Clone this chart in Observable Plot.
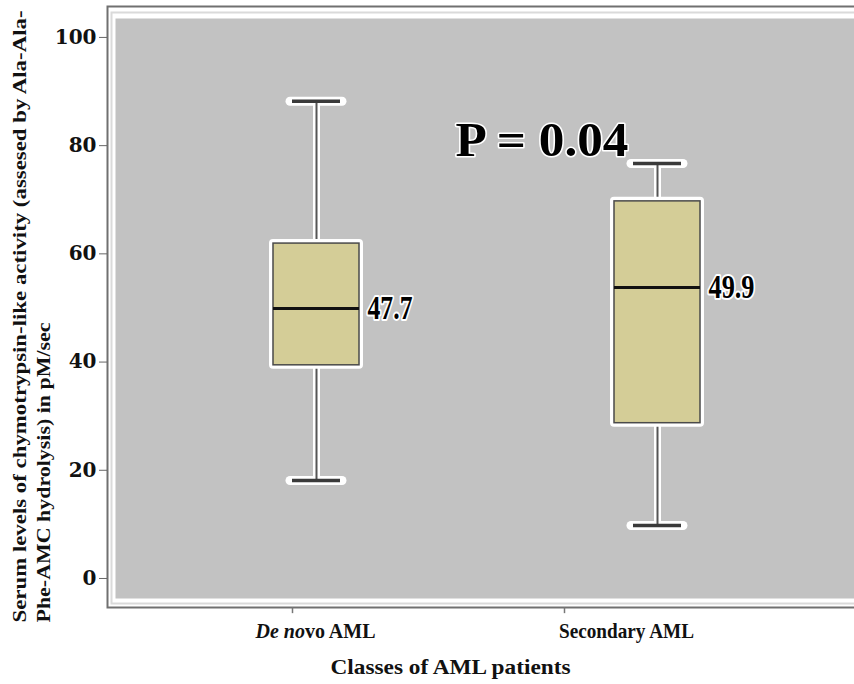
<!DOCTYPE html>
<html><head><meta charset="utf-8">
<script src="https://cdn.jsdelivr.net/npm/d3@7"></script>
<script src="https://cdn.jsdelivr.net/npm/@observablehq/plot@0.6"></script>
<style>
body{margin:0;background:#fff;overflow:hidden}
.yticks text{font-family:"DejaVu Serif",serif;font-weight:bold;font-size:20px;fill:#111}
</style>
</head><body><div id="chart"></div>
<script>
const classes = ["De novo AML", "Secondary AML"];
const mins = [18.1, 9.8];
const q1s = [39.4, 28.7];
const medians = [49.9, 53.8];
const q3s = [61.9, 69.7];
const maxs = [88.2, 76.7];
const medianLabels = ["47.7", "49.9"];
const yTicks = [0, 20, 40, 60, 80, 100];
const pText = "P = 0.04";
const xTitle = "Classes of AML patients";
const yTitle1 = "Serum levels of chymotrypsin-like activity (assesed by Ala-Ala-";
const yTitle2 = "Phe-AMC hydrolysis) in pM/sec";

const boxes = classes.map((c, i) => ({cls: c, min: mins[i], q1: q1s[i], median: medians[i], q3: q3s[i], max: maxs[i], label: medianLabels[i]}));
const serif = "'Liberation Serif','Times New Roman',serif";

const chart = Plot.plot({
  width: 854, height: 684,
  marginLeft: 115, marginRight: 0, marginTop: 18, marginBottom: 86,
  style: {background: "#fff", fontFamily: serif, overflow: "hidden"},
  x: {type: "band", domain: classes, range: [145.5, 827.5], paddingInner: 0.748, paddingOuter: 0.374, axis: null},
  y: {domain: [-3.7, 103.5], axis: null},
  marks: [
    Plot.frame({fill: "#fff", stroke: "#707070", strokeWidth: 2, insetLeft: -8, insetTop: -12, insetBottom: -9, insetRight: -4}),
    Plot.frame({stroke: "#dadada", strokeWidth: 2, insetLeft: -4, insetTop: -6, insetBottom: -5, insetRight: -4}),
    Plot.frame({fill: "#c2c2c2", insetRight: -4}),
    Plot.axisY({ticks: yTicks, tickSize: 8, dx: -8, tickPadding: 3, label: null, stroke: "#666", className: "yticks"}),
    // whiskers
    Plot.ruleX(boxes, {x: "cls", y1: "q3", y2: "max", stroke: "#fff", strokeWidth: 7}),
    Plot.ruleX(boxes, {x: "cls", y1: "min", y2: "q1", stroke: "#fff", strokeWidth: 7}),
    Plot.tickY(boxes, {x: "cls", y: "max", insetLeft: 17, insetRight: 17, stroke: "#fff", strokeWidth: 9, strokeLinecap: "round"}),
    Plot.tickY(boxes, {x: "cls", y: "min", insetLeft: 17, insetRight: 17, stroke: "#fff", strokeWidth: 9, strokeLinecap: "round"}),
    Plot.ruleX(boxes, {x: "cls", y1: "q3", y2: "max", stroke: "#555", strokeWidth: 2}),
    Plot.ruleX(boxes, {x: "cls", y1: "min", y2: "q1", stroke: "#555", strokeWidth: 2}),
    Plot.tickY(boxes, {x: "cls", y: "max", insetLeft: 19, insetRight: 19, stroke: "#3a3a3a", strokeWidth: 3.5}),
    Plot.tickY(boxes, {x: "cls", y: "min", insetLeft: 19, insetRight: 19, stroke: "#3a3a3a", strokeWidth: 3.5}),
    // boxes
    Plot.barY(boxes, {x: "cls", y1: "q1", y2: "q3", fill: "#fff", stroke: "#fff", strokeWidth: 8, strokeLinejoin: "round"}),
    Plot.barY(boxes, {x: "cls", y1: "q1", y2: "q3", fill: "#d4cd97", stroke: "#4a4a4a", strokeWidth: 1.5}),
    Plot.tickY(boxes, {x: "cls", y: "median", stroke: "#111", strokeWidth: 3}),
    Plot.text(boxes, {x: "cls", y: "median", text: "label", dx: 51, textAnchor: "start", lineAnchor: "middle", fontSize: 33, fontWeight: "bold", fill: "#000", stroke: "#fff", strokeWidth: 4, className: "medlab"}),
    // P value
    Plot.text([pText], {text: d => d, frameAnchor: "top-left", dx: 340, dy: 137, textAnchor: "start", lineAnchor: "bottom", fontSize: 48, fontWeight: "bold", fill: "#000", stroke: "#fff", strokeWidth: 3, className: "ptext"}),
    // x ticks
    Plot.ruleX([classes[0]], {x: d => d, y1: -5.4, y2: -6.5, dx: -24, stroke: "#777", strokeWidth: 1.5}),
    Plot.ruleX([classes[1]], {x: d => d, y1: -5.4, y2: -6.5, dx: -93, stroke: "#777", strokeWidth: 1.5}),
    Plot.text([classes[0]], {x: d => d, text: d => d, frameAnchor: "bottom", dy: 39, dx: -1, lineAnchor: "bottom", fontSize: 21, fontWeight: "bold", fill: "#111", className: "xlab0"}),
    Plot.text([classes[1]], {x: d => d, text: d => d, frameAnchor: "bottom", dy: 39, dx: -31, lineAnchor: "bottom", fontSize: 21, fontWeight: "bold", fill: "#111", className: "xlab1"}),
    // titles
    Plot.text([xTitle], {text: d => d, frameAnchor: "bottom-left", dx: 335, dy: 75, textAnchor: "middle", lineAnchor: "bottom", fontSize: 22, fontWeight: "bold", fill: "#111", className: "xtitle"}),
    Plot.text([yTitle1], {text: d => d, frameAnchor: "bottom-left", dx: -96, dy: 24, rotate: -90, textAnchor: "start", lineAnchor: "middle", fontSize: 19, fontWeight: "bold", fill: "#111", className: "ytitle1"}),
    Plot.text([yTitle2], {text: d => d, frameAnchor: "bottom-left", dx: -72, dy: 24, rotate: -90, textAnchor: "start", lineAnchor: "middle", fontSize: 19, fontWeight: "bold", fill: "#111", className: "ytitle2"})
  ]
});
document.getElementById("chart").appendChild(chart);

const svg = d3.select(chart);
const fit = (sel, lens) => svg.selectAll(sel).each(function(d, i) {
  d3.select(this).attr("textLength", lens[i]).attr("lengthAdjust", "spacingAndGlyphs");
});
fit(".medlab text", [45, 46]);
fit(".ptext text", [173]);
fit(".xtitle text", [240]);
fit(".ytitle1 text", [612]);
fit(".ytitle2 text", [300]);
fit(".xlab0 text", [120]);
fit(".xlab1 text", [135]);
svg.select(".xlab0 text").html('<tspan font-style="italic">De no</tspan>vo AML');
</script>
</body></html>
